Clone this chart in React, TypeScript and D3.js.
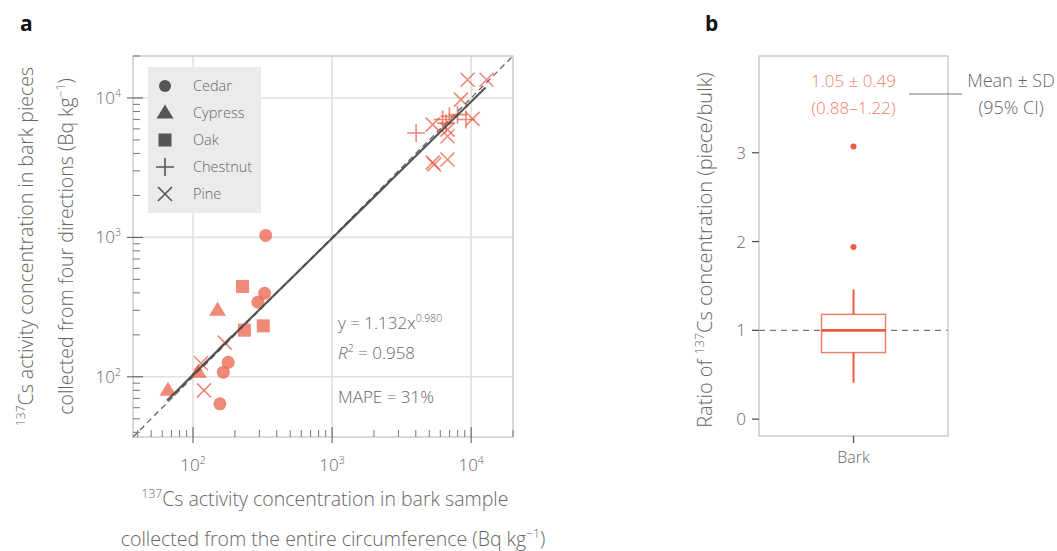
import React from "react";
import * as d3 from "d3";

// panel a data: [bulk (x), pieces (y)]
const cedar = [
  [333, 1033],
  [327, 397],
  [293, 343],
  [179, 127],
  [165, 108],
  [156, 64],
];
const cypress = [
  [150, 300],
  [109, 108],
  [66, 80],
];
const oak = [
  [227, 445],
  [234, 216],
  [320, 232],
];
const chestnut = [
  [4020, 5610],
  [6970, 7380],
  [7980, 7590],
  [9180, 7000],
  [6240, 7000],
  [6600, 6600],
];
const pine = [
  [169, 176],
  [114, 125],
  [120, 80],
  [9420, 13500],
  [12900, 13500],
  [8450, 9730],
  [10240, 7080],
  [5290, 6440],
  [6760, 5930],
  [6760, 5310],
  [5430, 3330],
  [5290, 3440],
  [6760, 3620],
];
const speciesNames = ["Cedar", "Cypress", "Oak", "Chestnut", "Pine"];
const fitCoef = 1.132;
const fitExp = 0.98;
const fitRange = [65, 12700];

// panel b data
const boxStats = { q1: 0.75, median: 1.0, q3: 1.18, lo: 0.41, hi: 1.46 };
const boxOutliers = [3.07, 1.94];
const ratioTicks = [0, 1, 2, 3];

const FONT = "'Open Sans', 'Noto Sans', sans-serif";
const TXT = "#666";
const PT = "rgba(233,87,63,0.7)";
const BOX = "#ee5a3f";

const Marker = ({ type, x, y, fill, legend }: any) => {
  if (type === "Cedar") return <circle cx={x} cy={y} r={legend ? 6 : 6.5} fill={fill} />;
  if (type === "Cypress") {
    const s = 8.5;
    return (
      <path
        d={`M${x},${y - s} L${x + s},${y + s * 0.65} L${x - s},${y + s * 0.65} Z`}
        fill={fill}
      />
    );
  }
  if (type === "Oak") return <rect x={x - 6.5} y={y - 6.5} width={13} height={13} fill={fill} />;
  if (type === "Chestnut") {
    const s = 9;
    return (
      <path d={`M${x - s},${y} H${x + s} M${x},${y - s} V${y + s}`} stroke={fill} strokeWidth={1.6} />
    );
  }
  const s = 7;
  return (
    <path
      d={`M${x - s},${y - s} L${x + s},${y + s} M${x - s},${y + s} L${x + s},${y - s}`}
      stroke={fill}
      strokeWidth={1.6}
    />
  );
};

const Sup = ({ children }: any) => (
  <tspan fontSize="0.62em" baselineShift="super">
    {children}
  </tspan>
);

const App = () => {
  const W = 1057;
  const H = 551;
  // panel a
  const ax = { l: 133, r: 513, t: 56, b: 437 };
  const x = d3.scaleLog().domain([37, 20000]).range([ax.l, ax.r]);
  const y = d3.scaleLog().domain([37, 20000]).range([ax.b, ax.t]);
  const major = [100, 1000, 10000];
  const minor = x.ticks().filter((v) => !major.includes(v));
  const fitLine = d3
    .line<number>()
    .x((d) => x(d))
    .y((d) => y(fitCoef * Math.pow(d, fitExp)));
  const fitXs = d3.range(0, 51).map((i) => fitRange[0] * Math.pow(fitRange[1] / fitRange[0], i / 50));
  const groups: any = { Cedar: cedar, Cypress: cypress, Oak: oak, Chestnut: chestnut, Pine: pine };

  // panel b
  const bx = { l: 759, r: 948, t: 56, b: 436 };
  const yb = d3.scaleLinear().domain([-0.19, 4.09]).range([bx.b, bx.t]);
  const cx = (bx.l + bx.r) / 2;
  const bw = 64;

  return (
    <svg width={W} height={H} style={{ position: "absolute", left: 0, top: 0 }} fontFamily={FONT} fontWeight={300}>
      <rect width={W} height={H} fill="#fff" />
      <text x={20} y={31} fontSize={21} fontWeight={700} fill="#111">a</text>
      <text x={705} y={31} fontSize={21} fontWeight={700} fill="#111">b</text>

      {/* panel a grid */}
      {major.map((v) => (
        <g key={"g" + v}>
          <line x1={x(v)} x2={x(v)} y1={ax.t} y2={ax.b} stroke="#e0e0e0" strokeWidth={1.6} />
          <line x1={ax.l} x2={ax.r} y1={y(v)} y2={y(v)} stroke="#e0e0e0" strokeWidth={1.6} />
        </g>
      ))}
      {/* legend */}
      <rect x={148} y={67} width={113} height={146} fill="#ebebeb" />
      {speciesNames.map((n, i) => (
        <g key={n}>
          <Marker type={n} x={165} y={86 + i * 27} fill="#555" legend />
          <text x={193} y={86 + i * 27} dy="0.35em" fontSize={14.5} fill={TXT}>
            {n}
          </text>
        </g>
      ))}
      <rect x={ax.l} y={ax.t} width={ax.r - ax.l} height={ax.b - ax.t} fill="none" stroke="#c4c4c4" strokeWidth={1.3} />
      {/* ticks */}
      {major.map((v) => (
        <g key={"t" + v} stroke="#555" strokeWidth={1}>
          <line x1={x(v)} x2={x(v)} y1={ax.b - 10} y2={ax.b + 6} />
          <line x1={ax.l - 6} x2={ax.l + 10} y1={y(v)} y2={y(v)} />
        </g>
      ))}
      {minor.map((v) => (
        <g key={"m" + v} stroke="#777" strokeWidth={1}>
          <line x1={x(v)} x2={x(v)} y1={ax.b - 7} y2={ax.b} />
          <line x1={ax.l} x2={ax.l + 7} y1={y(v)} y2={y(v)} />
        </g>
      ))}
      {major.map((v) => (
        <g key={"l" + v} fontSize={17} fill={TXT}>
          <text x={x(v)} y={471} textAnchor="middle">
            10<Sup>{Math.log10(v)}</Sup>
          </text>
          <text x={121} y={y(v)} dy="0.35em" textAnchor="end">
            10<Sup>{Math.log10(v)}</Sup>
          </text>
        </g>
      ))}
      {/* 1:1 and fit */}
      <line x1={x(37)} y1={y(37)} x2={x(20000)} y2={y(20000)} stroke="#666" strokeWidth={1.3} strokeDasharray="6,4" />
      {/* points */}
      {speciesNames.map((n) =>
        groups[n].map((d: number[], i: number) => (
          <Marker key={n + i} type={n} x={x(d[0])} y={y(d[1])} fill={PT} />
        ))
      )}
      <path d={fitLine(fitXs) || ""} fill="none" stroke="#444" strokeWidth={2.2} opacity={0.9} />
      <g fontSize={17} fill={TXT}>
        <text x={338} y={329}>
          y = 1.132x<Sup>0.980</Sup>
        </text>
        <text x={338} y={359}>
          <tspan fontStyle="italic">R</tspan>
          <Sup>2</Sup> = 0.958
        </text>
        <text x={338} y={403}>MAPE = 31%</text>
      </g>
      {/* axis titles */}
      <g fontSize={19.5} fill={TXT} textAnchor="middle">
        <text x={325} y={506}>
          <Sup>137</Sup>Cs activity concentration in bark sample
        </text>
        <text x={333} y={546}>
          collected from the entire circumference (Bq kg<Sup>−1</Sup>)
        </text>
        <text transform={`translate(33,${(ax.t + ax.b) / 2}) rotate(-90)`}>
          <Sup>137</Sup>Cs activity concentration in bark pieces
        </text>
        <text transform={`translate(73,${(ax.t + ax.b) / 2}) rotate(-90)`}>
          collected from four directions (Bq kg<Sup>−1</Sup>)
        </text>
      </g>

      {/* panel b */}
      <line x1={bx.l} x2={bx.r} y1={yb(1)} y2={yb(1)} stroke="#777" strokeWidth={1.2} strokeDasharray="6,5" />
      <rect x={bx.l} y={bx.t} width={bx.r - bx.l} height={bx.b - bx.t} fill="none" stroke="#c4c4c4" strokeWidth={1.3} />
      {ratioTicks.map((v) => (
        <g key={"b" + v}>
          <line x1={bx.l - 7} x2={bx.l} y1={yb(v)} y2={yb(v)} stroke="#555" strokeWidth={1.3} />
          <text x={746} y={yb(v)} dy="0.35em" textAnchor="end" fontSize={17} fill={TXT}>
            {v}
          </text>
        </g>
      ))}
      <line x1={cx} x2={cx} y1={bx.b} y2={bx.b + 7} stroke="#555" strokeWidth={1.3} />
      <text x={cx} y={463} textAnchor="middle" fontSize={16} fill={TXT}>Bark</text>
      <text
        transform={`translate(712,250) rotate(-90)`}
        textAnchor="middle"
        fontSize={20}
        fill={TXT}
      >
        Ratio of <Sup>137</Sup>Cs concentration (piece/bulk)
      </text>
      {/* box */}
      <line x1={cx} x2={cx} y1={yb(boxStats.hi)} y2={yb(boxStats.q3)} stroke={BOX} strokeWidth={2} />
      <line x1={cx} x2={cx} y1={yb(boxStats.q1)} y2={yb(boxStats.lo)} stroke={BOX} strokeWidth={2} />
      <rect
        x={cx - bw / 2}
        y={yb(boxStats.q3)}
        width={bw}
        height={yb(boxStats.q1) - yb(boxStats.q3)}
        fill="#fff"
        fillOpacity={0.6}
        stroke={BOX}
        strokeOpacity={0.8}
        strokeWidth={1.4}
      />
      <line x1={cx - bw / 2} x2={cx + bw / 2} y1={yb(boxStats.median)} y2={yb(boxStats.median)} stroke={BOX} strokeWidth={2.6} />
      {boxOutliers.map((v) => (
        <circle key={v} cx={cx} cy={yb(v)} r={3} fill={BOX} />
      ))}
      <g fontSize={17} fill="#f27d66" textAnchor="middle">
        <text x={cx} y={81} dy="0.35em">1.05 ± 0.49</text>
        <text x={cx} y={108} dy="0.35em">(0.88–1.22)</text>
      </g>
      <line x1={909} x2={962} y1={94} y2={94} stroke="#777" strokeWidth={1} />
      <g fontSize={18} fill={TXT} textAnchor="middle">
        <text x={1011} y={81} dy="0.35em">Mean ± SD</text>
        <text x={1011} y={108} dy="0.35em">(95% CI)</text>
      </g>
    </svg>
  );
};

export default App;
